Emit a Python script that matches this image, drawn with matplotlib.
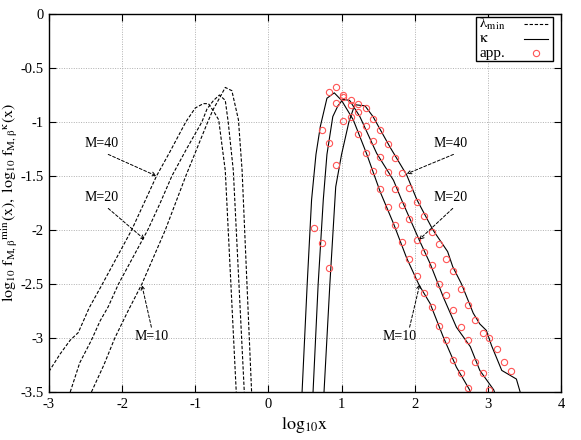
import matplotlib
matplotlib.use("Agg")
import matplotlib.pyplot as plt
from matplotlib.lines import Line2D

# ---- data (log10 x, log10 f) ----
# lambda_min (dashed)
lam_m40_x = [-3.0, -2.85, -2.71, -2.60, -2.45, -2.27, -2.07, -1.87, -1.70, -1.53,
             -1.35, -1.13, -1.0, -0.89, -0.82, -0.75, -0.68, -0.59, -0.44]
lam_m40_y = [-3.31, -3.15, -3.02, -2.95, -2.72, -2.50, -2.25, -2.0, -1.75, -1.50,
             -1.28, -1.0, -0.87, -0.83, -0.83, -0.90, -0.98, -1.45, -3.5]
lam_m20_x = [-2.71, -2.58, -2.42, -2.30, -2.19, -2.05, -1.85, -1.65, -1.48, -1.32,
             -1.12, -0.91, -0.84, -0.75, -0.67, -0.59, -0.55, -0.48, -0.33]
lam_m20_y = [-3.5, -3.23, -3.02, -2.84, -2.71, -2.50, -2.25, -2.0, -1.75, -1.5,
             -1.25, -1.0, -0.88, -0.80, -0.75, -0.80, -1.0, -1.45, -3.5]
lam_m10_x = [-2.42, -2.25, -2.10, -1.92, -1.73, -1.57, -1.41, -1.27, -1.13, -0.98,
             -0.83, -0.76, -0.67, -0.59, -0.50, -0.41, -0.36, -0.23]
lam_m10_y = [-3.5, -3.25, -3.0, -2.75, -2.5, -2.25, -2.0, -1.75, -1.5, -1.25,
             -1.0, -0.89, -0.78, -0.68, -0.71, -0.98, -1.45, -3.5]

# kappa (solid)
kap_m10_x = [0.46, 0.53, 0.59, 0.65, 0.71, 0.80, 0.90, 1.00, 1.16, 1.34, 1.53, 1.71,
             1.89, 2.06, 2.21, 2.39, 2.57, 2.75, 2.77]
kap_m10_y = [-3.5, -2.5, -1.72, -1.3, -1.04, -0.78, -0.73, -0.80, -0.98, -1.29, -1.65, -1.94,
             -2.26, -2.51, -2.68, -2.99, -3.27, -3.48, -3.52]
kap_m20_x = [0.61, 0.68, 0.75, 0.80, 0.88, 0.95, 1.02, 1.11, 1.25, 1.48, 1.71, 1.82,
             2.06, 2.21, 2.39, 2.57, 2.76, 2.89, 3.08, 3.10]
kap_m20_y = [-3.5, -2.5, -1.72, -1.3, -0.95, -0.85, -0.79, -0.80, -0.95, -1.29, -1.54, -1.72,
             -2.09, -2.31, -2.62, -2.90, -3.08, -3.30, -3.48, -3.52]
kap_m40_x = [0.76, 0.84, 0.92, 1.0, 1.10, 1.18, 1.32, 1.43, 1.66, 1.89, 2.03, 2.25,
             2.45, 2.52, 2.64, 2.80, 2.89, 2.98, 3.05, 3.19, 3.39, 3.45]
kap_m40_y = [-3.5, -2.5, -1.6, -1.3, -1.0, -0.84, -0.85, -0.95, -1.23, -1.49, -1.72, -2.0,
             -2.2, -2.34, -2.50, -2.77, -2.87, -2.93, -3.07, -3.30, -3.38, -3.52]

# approximation (red circles)
app_m10_x = [0.62, 0.73, 0.83, 0.93, 1.02, 1.13, 1.23, 1.33, 1.43, 1.53, 1.63, 1.73,
             1.82, 1.92, 2.03, 2.13, 2.23, 2.33, 2.43, 2.53, 2.63, 2.73]
app_m10_y = [-1.98, -1.07, -0.72, -0.68, -0.77, -0.95, -1.11, -1.29, -1.45, -1.62, -1.79, -1.95,
             -2.11, -2.27, -2.43, -2.58, -2.71, -2.89, -3.02, -3.20, -3.32, -3.46]
app_m20_x = [0.73, 0.83, 0.93, 1.02, 1.13, 1.23, 1.33, 1.43, 1.53, 1.63, 1.73, 1.82,
             1.92, 2.03, 2.13, 2.23, 2.33, 2.43, 2.53, 2.63, 2.73, 2.83, 2.93, 3.02]
app_m20_y = [-2.12, -1.19, -0.82, -0.75, -0.80, -0.91, -1.04, -1.18, -1.32, -1.46, -1.62, -1.77,
             -1.90, -2.09, -2.20, -2.32, -2.50, -2.60, -2.74, -2.90, -3.02, -3.22, -3.32, -3.48]
app_m40_x = [0.83, 0.93, 1.02, 1.13, 1.23, 1.33, 1.43, 1.53, 1.63, 1.73, 1.82, 1.92,
             2.03, 2.13, 2.23, 2.33, 2.43, 2.53, 2.63, 2.73, 2.83, 2.93, 3.02, 3.12, 3.22, 3.32]
app_m40_y = [-2.35, -1.40, -0.99, -0.84, -0.83, -0.87, -0.97, -1.07, -1.20, -1.33, -1.47, -1.61,
             -1.74, -1.87, -2.02, -2.13, -2.27, -2.38, -2.55, -2.69, -2.83, -2.95, -3.00, -3.10, -3.22, -3.31]

# labels: (text, text position, arrow tip)
labels = [
    ("M=40", (-2.28, -1.20), (-1.53, -1.50)),
    ("M=20", (-2.28, -1.70), (-1.69, -2.09)),
    ("M=10", (-1.60, -2.99), (-1.73, -2.51)),
    ("M=40", (2.49, -1.20), (1.89, -1.48)),
    ("M=20", (2.49, -1.70), (2.06, -2.09)),
    ("M=10", (1.80, -2.99), (2.07, -2.50)),
]
# where the dashed arrow starts
arrow_from = [(-2.19, -1.30), (-2.19, -1.80), (-1.60, -2.90),
              (2.53, -1.30), (2.52, -1.80), (1.93, -2.90)]

xticks = [-3, -2, -1, 0, 1, 2, 3, 4]
yticks = [0, -0.5, -1, -1.5, -2, -2.5, -3, -3.5]

plt.rcParams["font.family"] = "serif"
plt.rcParams["font.serif"] = ["Liberation Serif", "DejaVu Serif"]
plt.rcParams["mathtext.fontset"] = "stix"

W, H = 581, 440
fig = plt.figure(figsize=(W / 100, H / 100), dpi=100)
ax = fig.add_axes([49 / W, 48 / H, 512 / W, 378 / H])

dash = (0, (3, 1.6))
lw = 0.8
red = "#ff5555"
for xs, ys in [(lam_m40_x, lam_m40_y), (lam_m20_x, lam_m20_y), (lam_m10_x, lam_m10_y)]:
    ax.plot(xs, ys, color="black", lw=lw, ls=dash)
for xs, ys in [(kap_m10_x, kap_m10_y), (kap_m20_x, kap_m20_y), (kap_m40_x, kap_m40_y)]:
    ax.plot(xs, ys, color="black", lw=lw)

circ = dict(ls="none", marker="o", ms=4.5, mfc="none", mec=red, mew=0.8)
for xs, ys in [(app_m10_x, app_m10_y), (app_m20_x, app_m20_y), (app_m40_x, app_m40_y)]:
    ax.plot(xs, ys, **circ)

for (txt, tpos, tip), start in zip(labels, arrow_from):
    ax.text(tpos[0], tpos[1], txt, fontsize=10, ha="center", va="center")
    ax.annotate("", xy=tip, xytext=start,
                arrowprops=dict(arrowstyle="->", color="black", lw=0.7,
                                ls=(0, (3, 2)), shrinkA=0, shrinkB=0,
                                mutation_scale=7))

ax.set_xlim(-3, 4)
ax.set_ylim(-3.5, 0)
ax.set_xticks(xticks)
ax.set_yticks(yticks)
ax.set_xticklabels([str(t) for t in xticks])
ax.set_yticklabels(["%g" % t for t in yticks])
ax.tick_params(direction="in", top=True, right=True, length=5, width=0.8,
               labelsize=10.5, pad=4)
ax.grid(True, color="#b0b0b0", ls=(0, (1, 1.5)), lw=0.7)
for s in ax.spines.values():
    s.set_linewidth(1.0)

ax.set_xlabel(r"$\mathrm{log_{10}x}$", fontsize=13, labelpad=3)
ax.set_ylabel(r"$\mathrm{log_{10}\ f_{M,\beta}{}^{min}(x),\ log_{10}\ f_{M,\beta}{}^{\kappa}(x)}$",
              fontsize=11.5)
ax.yaxis.set_label_coords(-0.057, 0.5)

# gnuplot-like key: text left, sample right, framed
px = lambda x, y: (x / W, 1 - y / H)
fig.patches.append(plt.Rectangle(px(476, 61), 77 / W, 44 / H, transform=fig.transFigure,
                                 fill=True, facecolor="white", edgecolor="black", lw=1.0,
                                 zorder=5))
key = [(r"$\mathrm{\lambda_{min}}$", 24, dict(color="black", lw=lw, ls=dash)),
       (r"$\mathrm{\kappa}$", 39, dict(color="black", lw=lw)),
       ("app.", 53, None)]
for txt, yy, style in key:
    fig.text(*px(479, yy), txt, fontsize=11, ha="left", va="center", zorder=6)
    if style is not None:
        x0, y0 = px(524, yy)
        x1, _ = px(548, yy)
        fig.add_artist(Line2D([x0, x1], [y0, y0], transform=fig.transFigure, zorder=6, **style))
    else:
        fig.add_artist(Line2D([px(536, yy)[0]], [px(536, yy)[1]], transform=fig.transFigure,
                              zorder=6, **circ))

fig.savefig("out.png", dpi=100)
